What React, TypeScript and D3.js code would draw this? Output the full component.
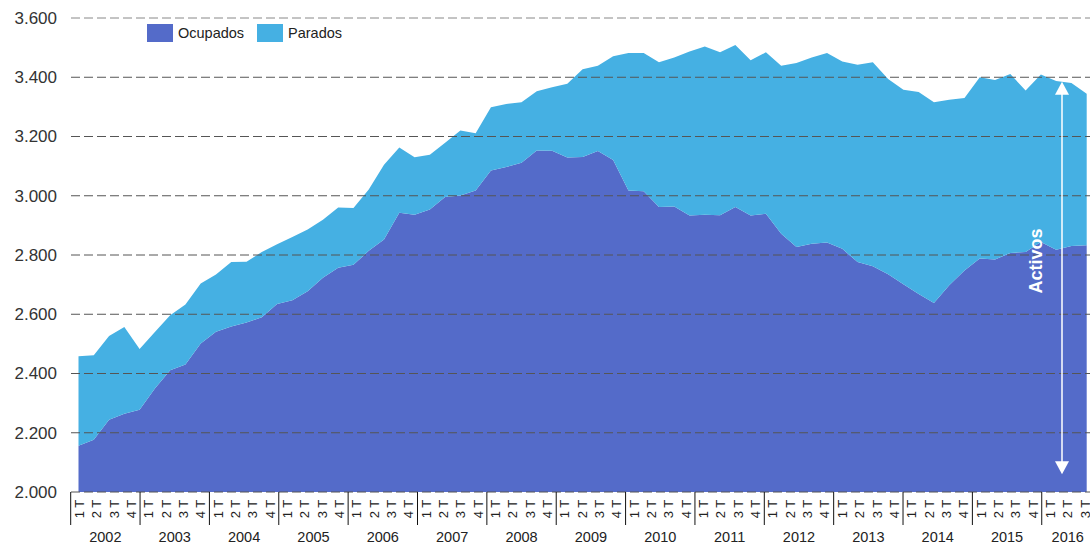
import { useMemo } from "react";
import * as d3 from "d3";

// thousands of people
const ocupados = [
  2156, 2176, 2244, 2264, 2278, 2349, 2411, 2430, 2501, 2541, 2559, 2572, 2590, 2635, 2647, 2678,
  2723, 2757, 2767, 2814, 2852, 2943, 2936, 2954, 2996, 3001, 3018, 3085, 3097, 3111, 3153, 3152,
  3129, 3131, 3151, 3121, 3018, 3015, 2962, 2964, 2933, 2936, 2934, 2962, 2933, 2939, 2872, 2827,
  2838, 2842, 2821, 2776, 2762, 2735, 2701, 2668, 2638, 2698, 2748, 2788, 2785, 2807, 2810, 2844,
  2818, 2830, 2833,
];
const parados = [
  302, 286, 283, 293, 205, 191, 186, 203, 203, 193, 217, 205, 220, 201, 214, 208,
  196, 203, 192, 207, 253, 220, 194, 184, 183, 219, 193, 214, 213, 205, 200, 214,
  249, 296, 288, 350, 464, 467, 489, 503, 554, 568, 550, 547, 524, 545, 567, 621,
  629, 640, 632, 666, 689, 659, 657, 682, 678, 626, 582, 612, 606, 604, 545, 565,
  569, 551, 511,
];
const years = ["2002", "2003", "2004", "2005", "2006", "2007", "2008", "2009", "2010", "2011", "2012", "2013", "2014", "2015", "2016"];
const quarterNames = ["1 T", "2 T", "3 T", "4 T"];
const yTicks = [2000, 2200, 2400, 2600, 2800, 3000, 3200, 3400, 3600];
const seriesKeys = ["ocupados", "parados"];
const seriesLabels = ["Ocupados", "Parados"];
const colors = ["#546bc9", "#45b0e3"];

const width = 1090;
const height = 546;
const font = "'Liberation Sans', Arial, sans-serif";

export default function App() {
  const quarters = useMemo(() => {
    const q: { key: string; label: string; year: string }[] = [];
    years.forEach((yr) => {
      const n = yr === "2016" ? 3 : 4; // last year only up to 3rd quarter
      quarterNames.slice(0, n).forEach((name) => q.push({ key: `${yr}-${name}`, label: name, year: yr }));
    });
    return q;
  }, []);

  const rows = ocupados.map((v, i) => ({ idx: i, ocupados: v, parados: parados[i] }));
  const stacked = d3.stack<any>().keys(seriesKeys)(rows);

  const x = d3.scaleLinear().domain([0, rows.length - 1]).range([78.5, 1086.7]);
  const y = d3.scaleLinear().domain([2000, 3600]).range([492, 18]).clamp(true);
  const band = d3
    .scaleBand()
    .domain(quarters.map((q) => q.key))
    .range([70.7, 70.7 + quarters.length * 17.34])
    .padding(0);

  const area = d3
    .area<any>()
    .x((d) => x(d.data.idx))
    .y0((d) => y(d[0]))
    .y1((d) => y(d[1]));

  const arrowX = 1062;
  const arrowTop = y(3385);
  const arrowBot = y(2060);

  return (
    <svg width={width} height={height} style={{ position: "absolute", left: 0, top: 0 }} fontFamily={font}>
      <rect width={width} height={height} fill="#fff" />
      {stacked.map((s, i) => (
        <path key={s.key} d={area(s) || undefined} fill={colors[i]} />
      ))}

      {yTicks.map((t) => (
        <g key={t}>
          <line x1={71} x2={1090} y1={y(t)} y2={y(t)} stroke={t === 3600 ? "#888" : "#555"} strokeDasharray="9,4" />
          <text x={57} y={y(t)} dy="0.35em" textAnchor="end" fontSize={17} fill="#333">
            {d3.format(",")(t).replace(",", ".")}
          </text>
        </g>
      ))}

      {/* Activos arrow */}
      <line x1={arrowX} x2={arrowX} y1={arrowTop + 10} y2={arrowBot - 10} stroke="#fff" strokeWidth={1.5} />
      <path d={`M${arrowX},${arrowTop} L${arrowX - 7},${arrowTop + 13} L${arrowX + 7},${arrowTop + 13} Z`} fill="#fff" />
      <path d={`M${arrowX},${arrowBot} L${arrowX - 7},${arrowBot - 13} L${arrowX + 7},${arrowBot - 13} Z`} fill="#fff" />
      <text
        transform={`translate(1042,${y(2780)}) rotate(-90)`}
        textAnchor="middle"
        fontSize={18}
        fontWeight="bold"
        fill="#fff"
      >
        Activos
      </text>

      {/* legend */}
      {seriesLabels.map((l, i) => (
        <g key={l} transform={`translate(${147 + i * 110},24)`}>
          <rect width={26} height={18} fill={colors[i]} />
          <text x={31} y={9} dy="0.35em" fontSize={14.5} fill="#222">
            {l}
          </text>
        </g>
      ))}

      {/* x axis */}
      {quarters.map((q) => (
        <text
          key={q.key}
          transform={`translate(${(band(q.key) || 0) + band.bandwidth() / 2 + 4.5},509) rotate(-90)`}
          textAnchor="middle"
          fontSize={13}
          fill="#222"
        >
          {q.label}
        </text>
      ))}
      {years.map((yr) => {
        const qs = quarters.filter((q) => q.year === yr);
        const x0 = band(qs[0].key) || 0;
        const x1 = x0 + band.bandwidth() * qs.length;
        return (
          <g key={yr}>
            <line x1={x0} x2={x0} y1={492} y2={525} stroke="#111" />
            <text x={(x0 + x1) / 2} y={542} textAnchor="middle" fontSize={14.5} fill="#222">
              {yr}
            </text>
          </g>
        );
      })}
    </svg>
  );
}
